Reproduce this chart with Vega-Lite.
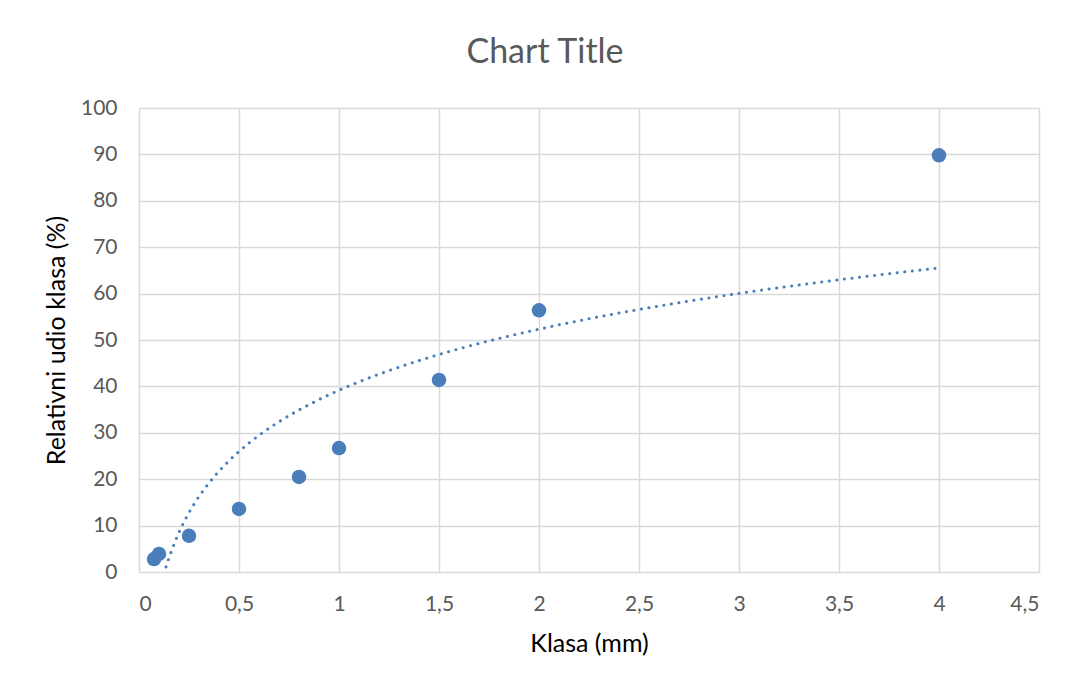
{
  "$schema": "https://vega.github.io/schema/vega-lite/v6.json",
  "width": 900,
  "height": 464,
  "autosize": "none",
  "padding": {"left": 139, "top": 108, "right": 36, "bottom": 112},
  "background": "white",
  "title": {
    "text": "Chart Title",
    "font": "Lato",
    "fontSize": 34,
    "fontWeight": "normal",
    "color": "#595959",
    "anchor": "middle",
    "frame": "group",
    "dx": -44,
    "baseline": "alphabetic",
    "offset": 0
  },
  "data": {
    "values": [
      {"x": 0.075, "y": 2.8},
      {"x": 0.1, "y": 3.9},
      {"x": 0.25, "y": 7.8},
      {"x": 0.5, "y": 13.6},
      {"x": 0.8, "y": 20.5},
      {"x": 1.0, "y": 26.7},
      {"x": 1.5, "y": 41.4},
      {"x": 2.0, "y": 56.4},
      {"x": 4.0, "y": 89.8}
    ]
  },
  "encoding": {
    "x": {
      "field": "x",
      "type": "quantitative",
      "scale": {"domain": [0, 4.5], "nice": false, "zero": false},
      "axis": {
        "title": "Klasa (mm)",
        "values": [0, 0.5, 1, 1.5, 2, 2.5, 3, 3.5, 4, 4.5],
        "labelExpr": "replace(format(datum.value, '~g'), '.', ',')",
        "labelPadding": 21,
        "titlePadding": 17
      }
    },
    "y": {
      "field": "y",
      "type": "quantitative",
      "scale": {"domain": [0, 100], "nice": false},
      "axis": {
        "title": "Relativni udio klasa (%)",
        "values": [0, 10, 20, 30, 40, 50, 60, 70, 80, 90, 100],
        "labelPadding": 22,
        "titlePadding": 11
      }
    }
  },
  "layer": [
    {
      "transform": [{"regression": "y", "on": "x", "method": "log"}],
      "mark": {
        "type": "line",
        "clip": true,
        "color": "#4a7ebb",
        "strokeWidth": 3,
        "strokeDash": [0.1, 7.5],
        "strokeCap": "round"
      }
    },
    {
      "mark": {"type": "circle", "size": 210, "color": "#4a7ebb", "opacity": 1}
    }
  ],
  "config": {
    "view": {"stroke": null},
    "axis": {
      "domain": false,
      "ticks": false,
      "grid": true,
      "gridColor": "#d9d9d9",
      "gridWidth": 1.5,
      "labelFont": "Lato",
      "labelFontSize": 21,
      "labelColor": "#595959",
      "titleFont": "Lato",
      "titleFontSize": 25,
      "titleFontWeight": "normal",
      "titleColor": "#000000"
    }
  }
}
